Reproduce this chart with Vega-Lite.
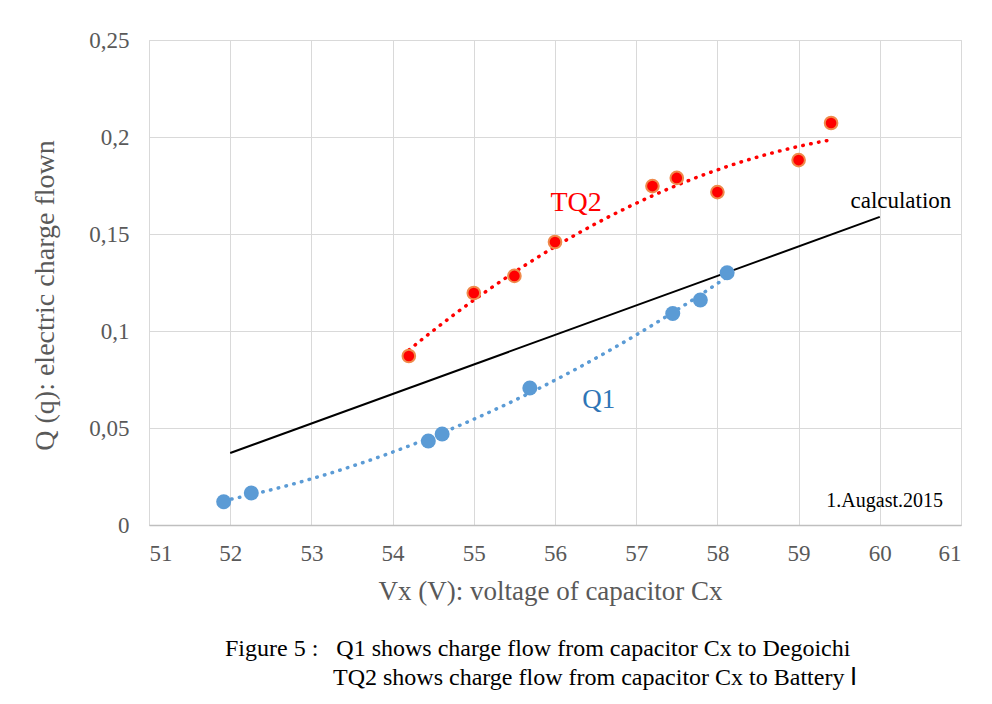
{
  "$schema": "https://vega.github.io/schema/vega-lite/v6.json",
  "width": 812,
  "height": 485,
  "autosize": {"type": "none"},
  "padding": {"left": 149, "top": 40, "right": 31, "bottom": 179},
  "background": "white",
  "config": {
    "font": "Liberation Serif",
    "view": {"stroke": "#d9d9d9", "strokeWidth": 1}
  },
  "title": {
    "text": ["Figure 5 :\u00a0\u00a0 Q1 shows charge flow from capacitor Cx to Degoichi", "\u200b\u00a0\u00a0\u00a0\u00a0\u00a0\u00a0\u00a0\u00a0\u00a0\u00a0\u00a0\u00a0\u00a0\u00a0\u00a0\u00a0\u00a0\u00a0TQ2 shows charge flow from capacitor Cx to Battery Ⅰ"],
    "orient": "bottom",
    "anchor": "start",
    "frame": "group",
    "dx": 76,
    "offset": 33,
    "font": "Liberation Serif",
    "fontSize": 24,
    "fontWeight": "normal",
    "color": "#000000",
    "lineHeight": 29
  },
  "datasets": {
    "q1": [
      {"v": 51.92, "q": 0.012},
      {"v": 52.26, "q": 0.0165},
      {"v": 54.44, "q": 0.0433},
      {"v": 54.61, "q": 0.0469},
      {"v": 55.69, "q": 0.0706},
      {"v": 57.45, "q": 0.109},
      {"v": 57.79, "q": 0.116},
      {"v": 58.12, "q": 0.130}
    ],
    "tq2": [
      {"v": 54.2, "q": 0.0871},
      {"v": 55.0, "q": 0.1196},
      {"v": 55.5, "q": 0.1284},
      {"v": 56.0, "q": 0.1459},
      {"v": 57.2, "q": 0.1747},
      {"v": 57.5, "q": 0.1789},
      {"v": 58.0, "q": 0.1716},
      {"v": 59.0, "q": 0.1881},
      {"v": 59.4, "q": 0.2072}
    ],
    "calc": [
      {"v": 52.0, "q": 0.0371},
      {"v": 60.0, "q": 0.1588}
    ],
    "labels": [
      {"v": 56.26, "q": 0.166, "label": "TQ2"},
      {"v": 56.54, "q": 0.0644, "label": "Q1"},
      {"v": 60.26, "q": 0.167, "label": "calculation"},
      {"v": 60.06, "q": 0.0124, "label": "1.Augast.2015"}
    ]
  },
  "encoding": {
    "x": {
      "field": "v", "type": "quantitative",
      "scale": {"domain": [51, 61], "nice": false, "zero": false},
      "axis": {
        "title": "Vx (V): voltage of capacitor Cx",
        "titleX": 401,
        "values": [51, 52, 53, 54, 55, 56, 57, 58, 59, 60, 61],
        "grid": true, "gridColor": "#d9d9d9", "gridWidth": 1,
        "domainColor": "#bfbfbf", "domainWidth": 1.5,
        "ticks": false,
        "labelFont": "Liberation Serif", "labelFontSize": 23, "labelColor": "#595959",
        "labelPadding": 17,
        "titleFont": "Liberation Serif", "titleFontSize": 27, "titleFontWeight": "normal", "titleColor": "#595959",
        "titlePadding": 13
      }
    },
    "y": {
      "field": "q", "type": "quantitative",
      "scale": {"domain": [0, 0.25], "nice": false},
      "axis": {
        "title": "Q (q): electric charge flown",
        "titleY": 255,
        "values": [0, 0.05, 0.1, 0.15, 0.2, 0.25],
        "labelExpr": "replace(format(datum.value, '.2~f'), '.', ',')",
        "grid": true, "gridColor": "#d9d9d9", "gridWidth": 1,
        "domain": false,
        "ticks": false,
        "labelFont": "Liberation Serif", "labelFontSize": 23, "labelColor": "#595959",
        "labelPadding": 20,
        "titleFont": "Liberation Serif", "titleFontSize": 28, "titleFontWeight": "normal", "titleColor": "#595959",
        "titlePadding": 29
      }
    }
  },
  "layer": [
    {
      "data": {"name": "calc"},
      "mark": {"type": "line", "color": "#000000", "strokeWidth": 2}
    },
    {
      "data": {"name": "q1"},
      "transform": [{"regression": "q", "on": "v", "method": "poly", "order": 2}],
      "mark": {"type": "line", "color": "#5B9BD5", "strokeWidth": 3.5, "strokeDash": [0.5, 7.5], "strokeCap": "round"}
    },
    {
      "data": {"name": "tq2"},
      "transform": [{"regression": "q", "on": "v", "method": "poly", "order": 2}],
      "mark": {"type": "line", "color": "#FF0000", "strokeWidth": 3.5, "strokeDash": [0.5, 7.5], "strokeCap": "round"}
    },
    {
      "data": {"name": "q1"},
      "mark": {"type": "point", "shape": "circle", "filled": true, "fill": "#5B9BD5", "opacity": 1, "size": 225, "strokeWidth": 0}
    },
    {
      "data": {"name": "tq2"},
      "mark": {"type": "point", "shape": "circle", "filled": true, "fill": "#FF0000", "stroke": "#F08A4B", "strokeWidth": 2, "opacity": 1, "size": 160}
    },
    {
      "data": {"name": "labels"},
      "transform": [{"filter": "datum.label == 'TQ2'"}],
      "mark": {"type": "text", "font": "Liberation Serif", "fontSize": 28, "color": "#FF0000", "align": "center", "baseline": "middle"},
      "encoding": {"text": {"field": "label"}}
    },
    {
      "data": {"name": "labels"},
      "transform": [{"filter": "datum.label == 'Q1'"}],
      "mark": {"type": "text", "font": "Liberation Serif", "fontSize": 27, "color": "#2E75B6", "align": "center", "baseline": "middle"},
      "encoding": {"text": {"field": "label"}}
    },
    {
      "data": {"name": "labels"},
      "transform": [{"filter": "datum.label == 'calculation'"}],
      "mark": {"type": "text", "font": "Liberation Serif", "fontSize": 23, "color": "#000000", "align": "center", "baseline": "middle"},
      "encoding": {"text": {"field": "label"}}
    },
    {
      "data": {"name": "labels"},
      "transform": [{"filter": "datum.label == '1.Augast.2015'"}],
      "mark": {"type": "text", "font": "Liberation Serif", "fontSize": 20, "color": "#000000", "align": "center", "baseline": "middle"},
      "encoding": {"text": {"field": "label"}}
    }
  ]
}
